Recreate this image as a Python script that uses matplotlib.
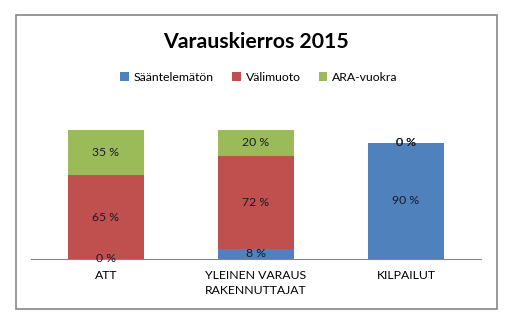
import matplotlib
matplotlib.use('Agg')
import matplotlib.pyplot as plt
from matplotlib.patches import Rectangle

plt.rcParams['font.family'] = ['Lato', 'DejaVu Sans']

# varauskierroksen jakauma hallintamuodoittain (%)
kategoriat = ['ATT', 'YLEINEN VARAUS\nRAKENNUTTAJAT', 'KILPAILUT']
sarjat = ['Sääntelemätön', 'Välimuoto', 'ARA-vuokra']
saantelematon = [0, 8, 90]
valimuoto = [65, 72, 0]
ara = [35, 20, 0]
varit = ['#4F81BD', '#C0504D', '#9BBB59']

fig = plt.figure(figsize=(5.18, 3.32), dpi=100)
ax = fig.add_axes([0.0598, 0.2199, 0.8688, 0.466])

x = range(len(kategoriat))
pohja = [0, 0, 0]
for nimi, arvot, vari in zip(sarjat, [saantelematon, valimuoto, ara], varit):
    ax.bar(x, arvot, 0.51, bottom=pohja, color=vari, label=nimi)
    for i, v in enumerate(arvot):
        ax.text(i, pohja[i] + v / 2, '%d %%' % v, ha='center', va='center',
                fontsize=8.8, color='#1a1a2a')
    pohja = [p + v for p, v in zip(pohja, arvot)]

ax.set_xlim(-0.5, 2.5)
ax.set_ylim(0, 120)
ax.set_yticks([])
ax.set_xticks(list(x))
ax.set_xticklabels(kategoriat, fontsize=8.8, linespacing=1.45)
ax.tick_params(axis='x', length=0, pad=8)
for s in ['left', 'right', 'top']:
    ax.spines[s].set_visible(False)
ax.spines['bottom'].set_color('#868686')

fig.text(0.494, 0.873, 'Varauskierros 2015', ha='center', va='center',
         fontsize=15.3, fontweight='bold')
ax.legend(loc='center', bbox_to_anchor=(0.5, 0.768), bbox_transform=fig.transFigure,
          ncol=3, frameon=False, fontsize=8.8, handlelength=0.7, handleheight=0.7,
          handletextpad=0.4, columnspacing=1.5)

# kehys kaavion ympärillä
fig.patches.append(Rectangle((16 / 518, 1 - 309 / 332), 481 / 518, 294 / 332,
                             transform=fig.transFigure, fill=False,
                             edgecolor='#868686', lw=1.2))

fig.savefig('out.png', dpi=100)
